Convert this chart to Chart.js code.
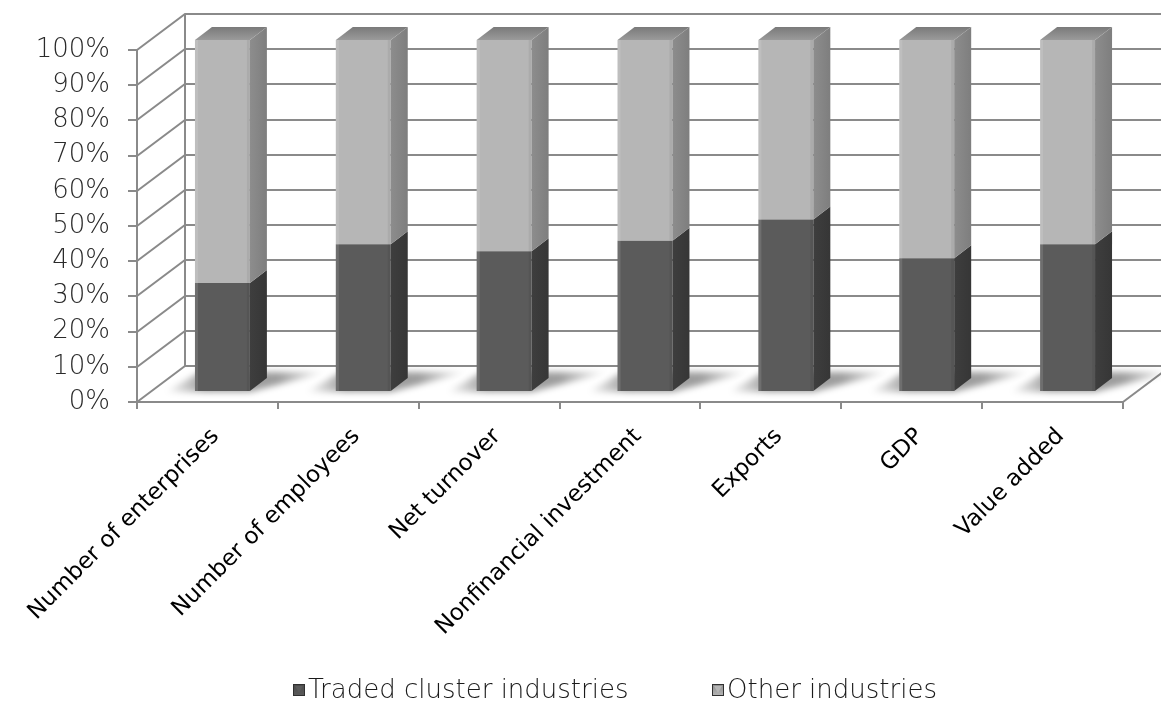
<!DOCTYPE html>
<html>
<head>
<meta charset="utf-8">
<script src="https://cdn.jsdelivr.net/npm/chart.js@4.4.1/dist/chart.umd.min.js"></script>
<style>
  html, body { margin: 0; padding: 0; background: #ffffff; }
  #wrap { width: 1161px; height: 701px; }
</style>
</head>
<body>
<div id="wrap"><canvas id="chart" width="1161" height="701"></canvas></div>
<script>
// Share of each indicator (%), traded cluster industries vs. the rest of the economy
const categories = ['Number of enterprises', 'Number of employees', 'Net turnover',
  'Nonfinancial investment', 'Exports', 'GDP', 'Value added'];
const tradedShare = [31, 42, 40, 43, 49, 38, 42];
const otherShare = [69, 58, 60, 57, 51, 62, 58];
const seriesNames = ['Traded cluster industries', 'Other industries'];
const yTickValues = [0, 10, 20, 30, 40, 50, 60, 70, 80, 90, 100];

// Pseudo-3D look
const GRID = '#8a8a8a';
const WALL = { dx: 48, dy: -36 };      // back wall offset from the front axis plane
const BAR_POS = { dx: 15, dy: -10 };   // bar front face offset
const BAR_DEPTH = { dx: 17, dy: -13 }; // bar depth (side / top faces)
const FACE = [
  { front: '#5b5b5b', side: '#3e3e3e', top: '#4a4a4a' },
  { front: '#b6b6b6', side: '#8d8d8d', top: '#8c8c8c' }
];

const depth3d = {
  id: 'depth3d',
  beforeDraw(chart) {
    const { ctx, chartArea: a, scales: { y } } = chart;
    ctx.save();
    ctx.strokeStyle = GRID;
    ctx.lineWidth = 2;
    ctx.lineCap = 'butt';
    // left wall diagonals + back wall gridlines
    yTickValues.forEach(v => {
      const py = Math.round(y.getPixelForValue(v));
      ctx.beginPath();
      ctx.moveTo(a.left, py);
      ctx.lineTo(a.left + WALL.dx, py + WALL.dy);
      ctx.lineTo(chart.width + 20, py + WALL.dy);
      ctx.stroke();
    });
    // back vertical edge of the left wall
    const y0 = Math.round(y.getPixelForValue(0));
    const y100 = Math.round(y.getPixelForValue(100));
    ctx.beginPath();
    ctx.moveTo(a.left + WALL.dx, y0 + WALL.dy);
    ctx.lineTo(a.left + WALL.dx, y100 + WALL.dy);
    ctx.stroke();
    // right edge of the floor
    ctx.beginPath();
    ctx.moveTo(a.right, y0);
    ctx.lineTo(a.right + WALL.dx, y0 + WALL.dy);
    ctx.stroke();
    ctx.restore();
  },
  beforeDatasetsDraw(chart) {
    const { ctx } = chart;
    ctx.save();
    ctx.translate(BAR_POS.dx, BAR_POS.dy);
    // soft floor shadows
    const meta = chart.getDatasetMeta(0);
    meta.data.forEach(el => {
      const p = el.getProps(['x', 'y', 'base', 'width'], true);
      const x0 = p.x - p.width / 2, x1 = p.x + p.width / 2, yb = p.base;
      const g = ctx.createLinearGradient(x0 - 30, 0, x1 + BAR_DEPTH.dx + 60, 0);
      g.addColorStop(0, 'rgba(0,0,0,0)');
      g.addColorStop(0.25, 'rgba(0,0,0,0.40)');
      g.addColorStop(0.7, 'rgba(0,0,0,0.38)');
      g.addColorStop(1, 'rgba(0,0,0,0)');
      ctx.save();
      ctx.filter = 'blur(3px)';
      ctx.fillStyle = g;
      ctx.beginPath();
      ctx.moveTo(x0 - 30, yb + 1);
      ctx.lineTo(x1, yb + 1);
      ctx.lineTo(x1 + BAR_DEPTH.dx + 60, yb - 19);
      ctx.lineTo(x0 + 5, yb - 19);
      ctx.closePath();
      ctx.fill();
      ctx.restore();
    });
  },
  afterDatasetsDraw(chart) {
    const { ctx } = chart;
    const n = chart.data.datasets.length;
    for (let d = 0; d < n; d++) {
      const meta = chart.getDatasetMeta(d);
      meta.data.forEach(el => {
        const p = el.getProps(['x', 'y', 'base', 'width'], true);
        const x0 = p.x - p.width / 2, x1 = p.x + p.width / 2;
        const yt = Math.min(p.y, p.base), yb = Math.max(p.y, p.base);
        // side face
        const sg = ctx.createLinearGradient(x1, 0, x1 + BAR_DEPTH.dx, 0);
        sg.addColorStop(0, FACE[d].side);
        sg.addColorStop(1, d === 0 ? '#363636' : '#7e7e7e');
        ctx.fillStyle = sg;
        ctx.beginPath();
        ctx.moveTo(x1, yt);
        ctx.lineTo(x1 + BAR_DEPTH.dx, yt + BAR_DEPTH.dy);
        ctx.lineTo(x1 + BAR_DEPTH.dx, yb + BAR_DEPTH.dy);
        ctx.lineTo(x1, yb);
        ctx.closePath();
        ctx.fill();
        // front face bevel highlight
        ctx.fillStyle = 'rgba(255,255,255,0.12)';
        ctx.fillRect(x0, yt, 3, yb - yt);
        ctx.fillStyle = 'rgba(0,0,0,0.06)';
        ctx.fillRect(x1 - 3, yt, 3, yb - yt);
        // top face on the uppermost segment
        if (d === n - 1) {
          const tg = ctx.createLinearGradient(0, yt, 0, yt + BAR_DEPTH.dy);
          tg.addColorStop(0, '#9a9a9a');
          tg.addColorStop(1, '#7a7a7a');
          ctx.fillStyle = tg;
          ctx.beginPath();
          ctx.moveTo(x0, yt);
          ctx.lineTo(x1, yt);
          ctx.lineTo(x1 + BAR_DEPTH.dx, yt + BAR_DEPTH.dy);
          ctx.lineTo(x0 + BAR_DEPTH.dx, yt + BAR_DEPTH.dy);
          ctx.closePath();
          ctx.fill();
        }
      });
    }
    ctx.restore();
  }
};

// Legend with bevelled square markers
function drawMarker(ctx, x, y, s, face) {
  ctx.fillStyle = '#303030';
  ctx.fillRect(x, y, s, s);
  const g = ctx.createLinearGradient(x, y, x, y + s);
  g.addColorStop(0, face.top);
  g.addColorStop(1, face.front);
  ctx.fillStyle = g;
  ctx.fillRect(x + 1, y + 1, s - 2, s - 2);
  ctx.fillStyle = face.front;
  ctx.beginPath();
  ctx.moveTo(x + 2, y + 2);
  ctx.lineTo(x + s - 2, y + 2);
  ctx.lineTo(x + s / 2, y + s - 3);
  ctx.closePath();
  ctx.fill();
}

const legendBlock = {
  id: 'legendBlock',
  afterDraw(chart) {
    const { ctx } = chart;
    const ly = 690;
    const starts = [293, 712];
    ctx.save();
    ctx.font = '200 26px "DejaVu Sans"';
    ctx.textBaseline = 'middle';
    chart.data.datasets.forEach((ds, i) => {
      const x = starts[i];
      drawMarker(ctx, x, ly - 6, 12, FACE[i]);
      ctx.fillStyle = '#1a1a1a';
      ctx.fillText(ds.label, x + 15, ly + 1);
    });
    ctx.restore();
  }
};

new Chart(document.getElementById('chart'), {
  type: 'bar',
  data: {
    labels: categories,
    datasets: [
      { label: seriesNames[0], data: tradedShare, backgroundColor: FACE[0].front, borderWidth: 0, clip: false },
      { label: seriesNames[1], data: otherShare, backgroundColor: FACE[1].front, borderWidth: 0, clip: false }
    ]
  },
  options: {
    responsive: false,
    animation: false,
    devicePixelRatio: 1,
    layout: { padding: { top: 50, right: 38, bottom: 0, left: 0 } },
    datasets: { bar: { categoryPercentage: 1, barPercentage: 0.39 } },
    plugins: { legend: { display: false }, tooltip: { enabled: false } },
    scales: {
      x: {
        stacked: true,
        afterFit: s => { s.height = 299; },
        grid: { offset: true, drawOnChartArea: false, tickLength: 7, color: GRID, lineWidth: 2 },
        border: { color: GRID, width: 2 },
        ticks: {
          autoSkip: false, minRotation: 45, maxRotation: 45, padding: 14, labelOffset: 8,
          color: '#000000', font: { family: 'DejaVu Sans', size: 23 }
        }
      },
      y: {
        stacked: true,
        min: 0, max: 100,
        afterFit: s => { s.width = 137; },
        afterBuildTicks: s => { s.ticks = yTickValues.map(v => ({ value: v })); },
        grid: { drawOnChartArea: false, tickLength: 9, color: GRID, lineWidth: 2 },
        border: { color: GRID, width: 2 },
        ticks: {
          padding: 18, color: '#2a2a2a',
          font: { family: 'DejaVu Sans', size: 26, weight: '200' },
          callback: v => v + '%'
        }
      }
    }
  },
  plugins: [depth3d, legendBlock]
});
</script>
</body>
</html>
